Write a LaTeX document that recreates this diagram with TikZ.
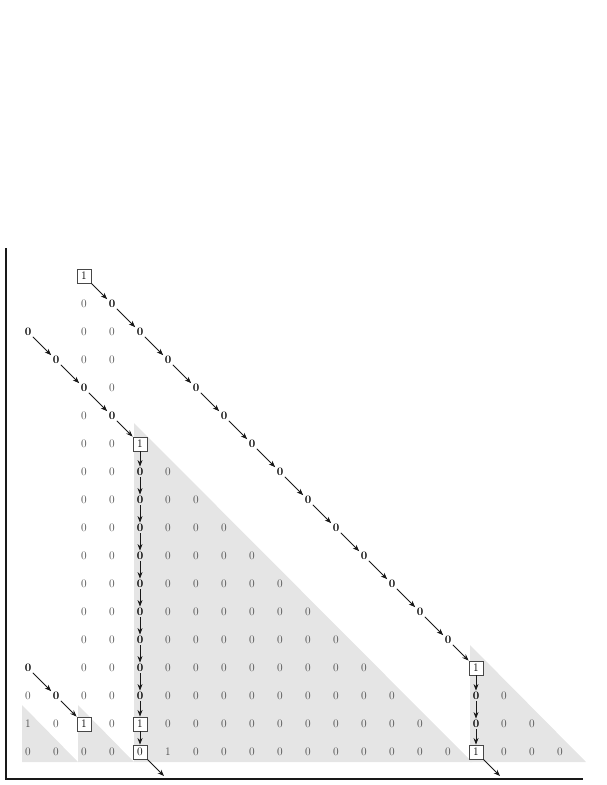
\documentclass[tikz,border=0pt]{standalone}
\usetikzlibrary{arrows.meta}
\begin{document}
\begin{tikzpicture}[x=1pt,y=-1pt,
  fnt/.style={font=\fontsize{11.5}{13}\selectfont},
  pl/.style={fnt, text=black!70, inner sep=1.4pt},
  bz/.style={font=\fontsize{11.5}{13}\selectfont\bfseries, text=black, inner sep=1.4pt},
  bx/.style={fnt, draw=black!72, fill=white, line width=0.9pt, inner sep=0pt, minimum size=14pt, text=black},
  ar/.style={-{Stealth[length=6.5pt,width=5pt]}, line width=0.8pt, black!90},
  tri/.style={fill=black!10},
  axis/.style={line width=2pt, black!90}]
\useasboundingbox (0,0) rectangle (606,785);
% grey triangles
\fill[tri] (22,705) -- (22,762) -- (78,762) -- cycle;
\fill[tri] (78,705) -- (78,762) -- (134,762) -- cycle;
\fill[tri] (134,423) -- (134,762) -- (472,762) -- cycle;
\fill[tri] (470,645) -- (470,762) -- (586,762) -- cycle;
% axes
\draw[axis] (5.5,248) -- (5.5,778.5) -- (583,778.5);
% plain entries
\foreach \r in {0,2,3,4,5,6,7,8,9,10,11,12,14,15,16}
  {\node[pl] (n-3-\r) at (84,{752-28*\r}) {0};}
\foreach \r in {0,1,2,3,4,5,6,7,8,9,10,11,13,14,15}
  {\node[pl] (n-4-\r) at (112,{752-28*\r}) {0};}
\node[pl] (n-1-2) at (28,696) {0};
\node[pl] (n-1-1) at (28,724) {1};
\node[pl] (n-1-0) at (28,752) {0};
\node[pl] (n-2-1) at (56,724) {0};
\node[pl] (n-2-0) at (56,752) {0};
\foreach \r in {1,...,10}{
  \pgfmathtruncatemacro\last{16-\r}
  \foreach \c in {6,...,\last}
    {\node[pl] (n-\c-\r) at ({28*\c},{752-28*\r}) {0};}
}
\node[pl] (n-6-0) at (168,752) {1};
\foreach \c in {7,...,16}
  {\node[pl] (n-\c-0) at ({28*\c},752) {0};}
\foreach \r in {0,1,2}{
  \pgfmathtruncatemacro\last{20-\r}
  \foreach \c in {18,...,\last}
    {\node[pl] (n-\c-\r) at ({28*\c},{752-28*\r}) {0};}
}
% bold entries
\foreach \r in {4,...,16}{
  \pgfmathtruncatemacro\c{20-\r}
  \node[bz] (n-\c-\r) at ({28*\c},{752-28*\r}) {0};
}
\foreach \r in {12,...,15}{
  \pgfmathtruncatemacro\c{16-\r}
  \node[bz] (n-\c-\r) at ({28*\c},{752-28*\r}) {0};
}
\foreach \r in {2,...,10}
  {\node[bz] (n-5-\r) at (140,{752-28*\r}) {0};}
\node[bz] (n-1-3) at (28,668) {0};
\node[bz] (n-2-2) at (56,696) {0};
\node[bz] (n-17-2) at (476,696) {0};
\node[bz] (n-17-1) at (476,724) {0};
% boxed entries
\foreach \c/\r/\t in {3/17/1,5/11/1,17/3/1,5/1/1,5/0/0,17/0/1,3/1/1}
  {\node[bx] (n-\c-\r) at ({28*\c},{752-28*\r}) {\t};}
% free ends
\coordinate (e1) at (164,776);
\coordinate (e2) at (500,776);
% arrows
\foreach \r in {17,...,4}{
  \pgfmathtruncatemacro\c{20-\r}
  \pgfmathtruncatemacro\cc{21-\r}
  \pgfmathtruncatemacro\rr{\r-1}
  \draw[ar] (n-\c-\r) -- (n-\cc-\rr);
}
\foreach \r in {15,...,12}{
  \pgfmathtruncatemacro\c{16-\r}
  \pgfmathtruncatemacro\cc{17-\r}
  \pgfmathtruncatemacro\rr{\r-1}
  \draw[ar] (n-\c-\r) -- (n-\cc-\rr);
}
\foreach \r in {11,...,1}{
  \pgfmathtruncatemacro\rr{\r-1}
  \draw[ar] (n-5-\r) -- (n-5-\rr);
}
\foreach \r in {3,2,1}{
  \pgfmathtruncatemacro\rr{\r-1}
  \draw[ar] (n-17-\r) -- (n-17-\rr);
}
\draw[ar] (n-1-3) -- (n-2-2);
\draw[ar] (n-2-2) -- (n-3-1);
\draw[ar] (n-5-0) -- (e1);
\draw[ar] (n-17-0) -- (e2);
\end{tikzpicture}
\end{document}
